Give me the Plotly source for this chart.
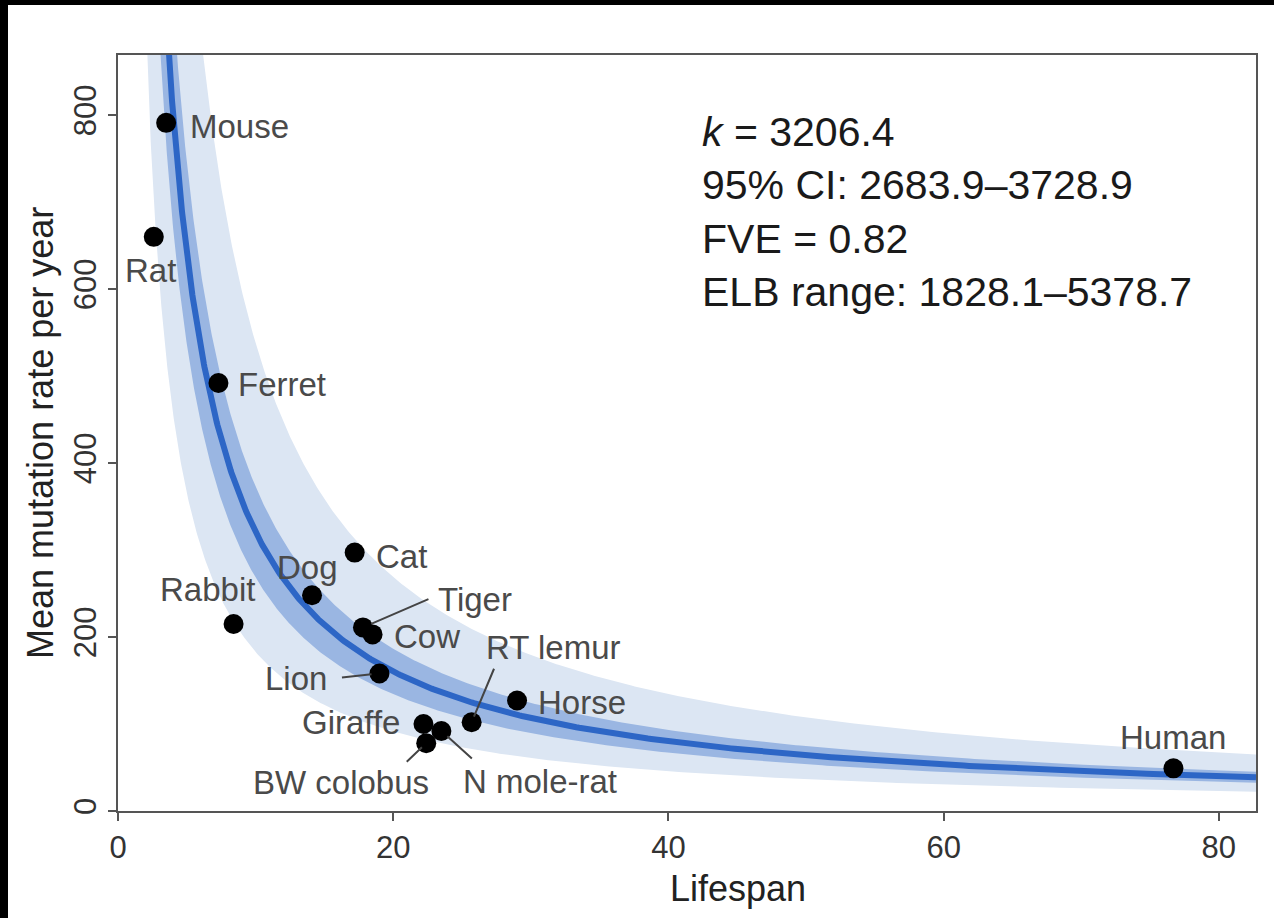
import numpy as np
import plotly.graph_objects as go

# ---- data ----
species = ["Mouse", "Rat", "Ferret", "Rabbit", "Dog", "Cat", "Tiger", "Cow", "Lion",
           "Giraffe", "BW colobus", "N mole-rat", "RT lemur", "Horse", "Human"]
lifespan = [3.5, 2.6, 7.3, 8.4, 14.1, 17.2, 17.8, 18.5, 19.0, 22.2, 22.4, 23.5, 25.7, 29.0, 76.7]
mutation_rate = [791, 660, 492, 215, 248, 297, 211, 203, 158, 100, 78, 92, 102, 127, 49]

# model parameters shown in the chart text
k_fit = 3206.4
k_ci = [2683.9, 3728.9]
k_elb = [1828.1, 5378.7]
fve = 0.82

x_ticks = [0, 20, 40, 60, 80]
y_ticks = [0, 200, 400, 600, 800]
x_range = [0, 82.7]
y_range = [0, 869]

# ---- label placement (pixel offsets from the point) ----
label_dx = [73, -3, 64, -26, -5, 47, 112, 54, -83, -72, -85, 99, 81, 65, 0]
label_dy = [4, 34, 2, -34, -28, 4, -28, 2, 5, -2, 39, 51, -75, 2, -31]
# leader lines: (species, far-end dx, far-end dy, standoff)
leaders = [("Tiger", 67, -29, 9), ("Lion", -39, 4, 8), ("RT lemur", 23, -55, 6),
           ("BW colobus", -21, 20, 6), ("N mole-rat", 32, 29, 8)]

OUTER = "#dce6f3"
INNER = "#9ab6e2"
LINE = "#2d66c6"
AX = "#555555"
FONT = "Liberation Sans, Arial, Helvetica, sans-serif"

xs = np.geomspace(1.0, x_range[1], 700)

fig = go.Figure()
# outer band (ELB range)
fig.add_trace(go.Scatter(
    x=np.concatenate([xs, xs[::-1]]),
    y=np.concatenate([k_elb[1] / xs, (k_elb[0] / xs)[::-1]]),
    fill="toself", fillcolor=OUTER, line=dict(width=0), mode="lines",
    hoverinfo="skip", showlegend=False))
# inner band (95% CI)
fig.add_trace(go.Scatter(
    x=np.concatenate([xs, xs[::-1]]),
    y=np.concatenate([k_ci[1] / xs, (k_ci[0] / xs)[::-1]]),
    fill="toself", fillcolor=INNER, line=dict(width=0), mode="lines",
    hoverinfo="skip", showlegend=False))
# fitted curve
fig.add_trace(go.Scatter(x=xs, y=k_fit / xs, mode="lines",
                         line=dict(color=LINE, width=6), hoverinfo="skip",
                         showlegend=False))
# points
fig.add_trace(go.Scatter(x=lifespan, y=mutation_rate, mode="markers",
                         marker=dict(color="black", size=20, line=dict(width=0)),
                         text=species, showlegend=False))

annotations = []
for name, xv, yv, dx, dy in zip(species, lifespan, mutation_rate, label_dx, label_dy):
    annotations.append(dict(
        x=xv, y=yv, xref="x", yref="y", text=name, showarrow=True,
        ax=dx, ay=dy, arrowcolor="rgba(0,0,0,0)", arrowwidth=0.1, arrowhead=0,
        font=dict(family=FONT, size=33, color="#4a4a4a")))
for name, dx, dy, so in leaders:
    i = species.index(name)
    annotations.append(dict(
        x=lifespan[i], y=mutation_rate[i], xref="x", yref="y", text="",
        showarrow=True, ax=dx, ay=dy, arrowhead=0, arrowwidth=2,
        arrowcolor="#444444", standoff=so))

W, H = 1274, 918
ML, MR, MT, MB = 118, 18, 55, 107
pw, ph = W - ML - MR, H - MT - MB


def px_x(p):
    return (p - ML) / pw


def px_y(p):
    return (H - MB - p) / ph


stats = (f"<i>k</i> = {k_fit}<br>95% CI: {k_ci[0]}\u2013{k_ci[1]}<br>"
         f"FVE = {fve}<br>ELB range: {k_elb[0]}\u2013{k_elb[1]}")
annotations.append(dict(
    x=px_x(700), y=px_y(212), xref="paper", yref="paper", xanchor="left",
    yanchor="middle", align="left", showarrow=False, text=stats,
    font=dict(family=FONT, size=41, color="#1a1a1a")))
annotations.append(dict(
    x=px_x(738), y=px_y(888), xref="paper", yref="paper", xanchor="center",
    yanchor="middle", showarrow=False, text="Lifespan",
    font=dict(family=FONT, size=36, color="#222222")))
annotations.append(dict(
    x=px_x(40), y=px_y(433), xref="paper", yref="paper", xanchor="center",
    yanchor="middle", showarrow=False, text="Mean mutation rate per year",
    textangle=-90, font=dict(family=FONT, size=36, color="#222222")))

shapes = [
    dict(type="rect", xref="paper", yref="paper", x0=-0.3, x1=1.3,
         y0=px_y(5), y1=1.3, fillcolor="black", line=dict(width=0), layer="above"),
    dict(type="rect", xref="paper", yref="paper", x0=-0.3, x1=px_x(8),
         y0=-0.3, y1=1.3, fillcolor="black", line=dict(width=0), layer="above"),
]

fig.update_layout(
    width=W, height=H, margin=dict(l=ML, r=MR, t=MT, b=MB, pad=0),
    paper_bgcolor="white", plot_bgcolor="white",
    annotations=annotations, shapes=shapes,
    font=dict(family=FONT),
    xaxis=dict(range=x_range, tickvals=x_ticks, showgrid=False, zeroline=False,
               showline=True, mirror=True, linecolor=AX, linewidth=2,
               ticks="outside", ticklen=8, tickwidth=2, tickcolor=AX,
               tickfont=dict(family=FONT, size=31, color="#333333")),
    yaxis=dict(range=y_range, tickvals=y_ticks, showgrid=False, zeroline=False,
               showline=True, mirror=True, linecolor=AX, linewidth=2,
               ticks="outside", ticklen=8, tickwidth=2, tickcolor=AX,
               tickangle=-90,
               tickfont=dict(family=FONT, size=31, color="#333333")),
)

fig.write_html("out.html", config={"displayModeBar": False},
               post_script="document.body.style.margin='0px';"
                           "document.body.style.overflow='hidden';")
